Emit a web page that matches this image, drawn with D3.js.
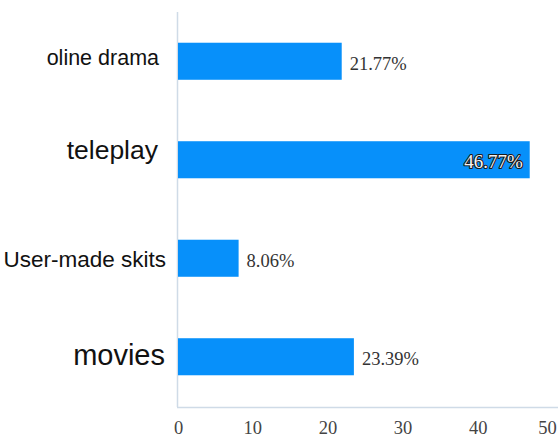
<!DOCTYPE html>
<html>
<head>
<meta charset="utf-8">
<script src="https://cdn.jsdelivr.net/npm/d3@7"></script>
<style>
  html, body { margin: 0; padding: 0; background: #fff; }
  svg { display: block; }
</style>
</head>
<body>
<svg id="chart" width="558" height="439"></svg>
<script>
const categories = ["oline drama", "teleplay", "User-made skits", "movies"];
const values = [21.77, 46.77, 8.06, 23.39];
const valueLabels = ["21.77%", "46.77%", "8.06%", "23.39%"];
const xTicks = [0, 10, 20, 30, 40, 50];

// label styling (not data)
const catStyle = {
  "oline drama":     { size: 21.5, dx: -19, dy: 4 },
  "teleplay":        { size: 26.5, dx: -20, dy: -1 },
  "User-made skits": { size: 22.5, dx: -12, dy: 8.5 },
  "movies":          { size: 29, dx: -13, dy: 8.5 }
};

const svg = d3.select("#chart");

const x = d3.scaleLinear().domain([0, 50]).range([178, 554]);
const y = d3.scaleBand().domain(categories).range([12, 406])
  .paddingInner(0.624).paddingOuter(0.312);

const axisColor = "#cfdbe7";

// y axis line
svg.append("line")
  .attr("x1", 177.5).attr("x2", 177.5)
  .attr("y1", 12).attr("y2", 407)
  .attr("stroke", axisColor).attr("stroke-width", 1.5);

// x axis line
svg.append("line")
  .attr("x1", 177).attr("x2", 558)
  .attr("y1", 407.5).attr("y2", 407.5)
  .attr("stroke", axisColor).attr("stroke-width", 1.5);

// x tick labels via d3 axis
const xAxis = d3.axisBottom(x).tickValues(xTicks).tickSize(0).tickPadding(0).tickFormat(d3.format("d"));
const gx = svg.append("g").attr("transform", "translate(0,434)").call(xAxis);
gx.select(".domain").remove();
gx.selectAll("text")
  .attr("font-family", "'Liberation Serif', 'Times New Roman', serif")
  .attr("font-size", 18.5)
  .attr("fill", "#444")
  .attr("dy", 0)
  .attr("dx", d => d === 50 ? -7 : (d === 0 ? 0 : -1));

// bars
svg.selectAll("rect.bar")
  .data(categories)
  .join("rect")
  .attr("class", "bar")
  .attr("x", x(0))
  .attr("y", d => y(d))
  .attr("width", (d, i) => x(values[i]) - x(0))
  .attr("height", y.bandwidth())
  .attr("fill", "#0790fa");

// category labels
svg.selectAll("text.cat")
  .data(categories)
  .join("text")
  .attr("class", "cat")
  .attr("x", d => x(0) + catStyle[d].dx)
  .attr("y", d => y(d) + y.bandwidth() / 2 + catStyle[d].dy)
  .attr("text-anchor", "end")
  .attr("font-family", "'Liberation Sans', Arial, Helvetica, sans-serif")
  .attr("font-size", d => catStyle[d].size)
  .attr("fill", "#111")
  .text(d => d);

// value labels
const maxV = d3.max(values);
svg.selectAll("text.val")
  .data(categories)
  .join("text")
  .attr("class", "val")
  .attr("x", (d, i) => values[i] === maxV ? x(values[i]) - 7 : x(values[i]) + 8)
  .attr("y", (d, i) => y(d) + y.bandwidth() / 2 + (values[i] === maxV ? 8 : 8.5))
  .attr("text-anchor", (d, i) => values[i] === maxV ? "end" : "start")
  .attr("font-family", "'Liberation Serif', 'Times New Roman', serif")
  .attr("font-size", (d, i) => values[i] === maxV ? 19 : 18.5)
  .attr("fill", (d, i) => values[i] === maxV ? "#f4f4f4" : "#333")
  .attr("stroke", (d, i) => values[i] === maxV ? "#1a1a1a" : "none")
  .attr("stroke-width", 2.2)
  .attr("stroke-linejoin", "round")
  .attr("paint-order", "stroke")
  .text((d, i) => valueLabels[i]);
</script>
</body>
</html>
